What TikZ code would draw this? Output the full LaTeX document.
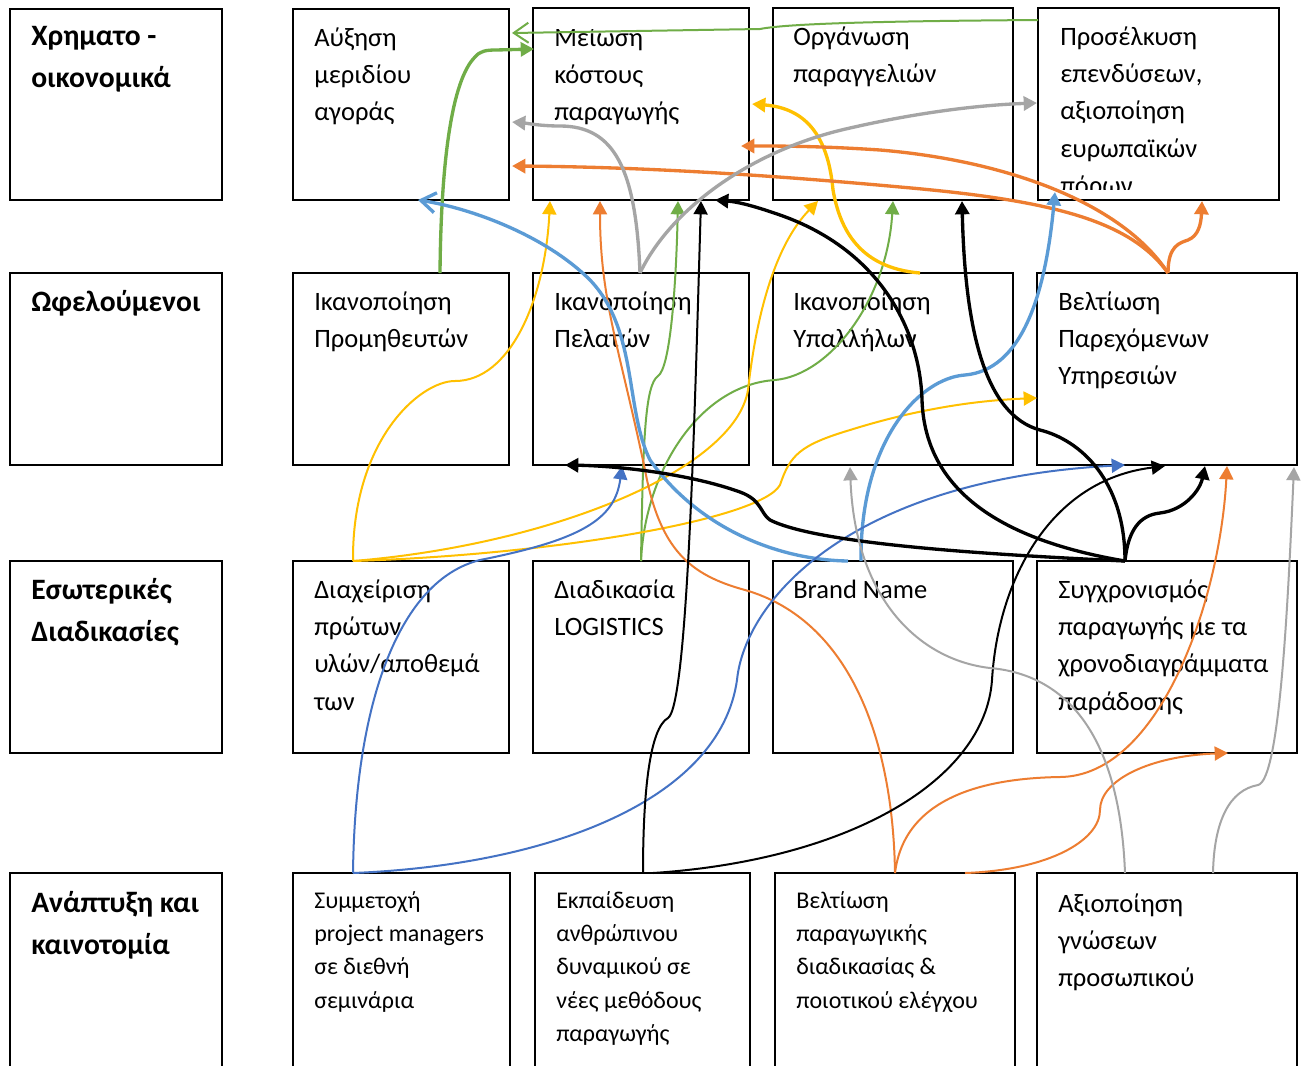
\documentclass[tikz,border=0pt]{standalone}
\usepackage{fontspec}
\setmainfont{Carlito}
\usetikzlibrary{arrows.meta,calc,fit}
\definecolor{cgreen}{HTML}{70AD47}
\definecolor{cyellow}{HTML}{FFC000}
\definecolor{corange}{HTML}{ED7D31}
\definecolor{clblue}{HTML}{5B9BD5}
\definecolor{cdblue}{HTML}{4472C4}
\definecolor{cgray}{HTML}{A5A5A5}
\newcommand\celllines[1]{\begin{tabular}[t]{@{}l@{}}#1\end{tabular}}
\begin{document}
\begin{tikzpicture}[x=0.75pt,y=-0.75pt,
  cell/.style={draw, line width=1.4pt, inner sep=0pt, outer sep=0pt, fit={#1}},
  txt/.style={anchor=base west, inner sep=0pt, font=\fontsize{19.9}{28.1}\selectfont},
  stxt/.style={anchor=base west, inner sep=0pt, font=\fontsize{18}{25.1}\selectfont},
  lbl/.style={anchor=base west, inner sep=0pt, font=\fontsize{22.2}{31.5}\selectfont\bfseries},
  wide/.style={line width=2.5pt},
  slim/.style={line width=1.5pt},
  tipf/.style={-{Triangle[length=10pt,width=10.5pt]}},
  tipo/.style={-{Straight Barb[length=11pt,width=15pt]}}]
\useasboundingbox (0,0) rectangle (1306,1065);
\fill[white] (0,0) rectangle (1306,1065);

% row labels and cells
\node[cell={(10,9) (222,200)}] (L1) {};
\node[cell={(293,9) (509,200)}] (A1) {};
\node[cell={(533,8) (749,200)}] (A2) {};
\node[cell={(773,8) (1013,200)}] (A3) {};
\node[cell={(1038,8) (1279,200)}] (A4) {};
\node[cell={(10,273) (222,465)}] (L2) {};
\node[cell={(293,273) (509,465)}] (B1) {};
\node[cell={(533,273) (749,465)}] (B2) {};
\node[cell={(773,273) (1013,465)}] (B3) {};
\node[cell={(1037,273) (1297,465)}] (B4) {};
\node[cell={(10,561) (222,753)}] (L3) {};
\node[cell={(293,561) (509,753)}] (C1) {};
\node[cell={(533,561) (749,753)}] (C2) {};
\node[cell={(773,561) (1013,753)}] (C3) {};
\node[cell={(1037,561) (1297,753)}] (C4) {};
\node[cell={(10,873) (222,1080)}] (L4) {};
\node[cell={(293,873) (510,1080)}] (D1) {};
\node[cell={(535,873) (750,1080)}] (D2) {};
\node[cell={(775,873) (1015,1080)}] (D3) {};
\node[cell={(1037,873) (1297,1080)}] (D4) {};

% texts
\node[lbl] (L1t) at ($(L1.north west)+(21,36)$) {\celllines{Χρηματο -\\οικονομικά}};
\node[lbl] (L2t) at ($(L2.north west)+(21,38)$) {\celllines{Ωφελούμενοι}};
\node[lbl] (L3t) at ($(L3.north west)+(21,38)$) {\celllines{Εσωτερικές\\Διαδικασίες}};
\node[lbl] (L4t) at ($(L4.north west)+(21,39)$) {\celllines{Ανάπτυξη και\\καινοτομία}};

\node[txt] (A1t) at ($(A1.north west)+(21,37)$) {\celllines{Αύξηση\\μεριδίου\\αγοράς}};
\begin{scope}
  \clip ($(A2.north west)+(0,21)$) rectangle (A2.south east);
  \node[txt] (A2t) at ($(A2.north west)+(21,38)$) {\celllines{Μείωση\\κόστους\\παραγωγής}};
\end{scope}
\node[txt] (A3t) at ($(A3.north west)+(20,37)$) {\celllines{Οργάνωση\\παραγγελιών}};
\begin{scope}
  \clip (A4.north west) rectangle ($(A4.south east)+(0,-11)$);
  \node[txt] (A4t) at ($(A4.north west)+(22,37)$) {\celllines{Προσέλκυση\\επενδύσεων,\\αξιοποίηση\\ευρωπαϊκών\\πόρων}};
\end{scope}

\node[txt] (B1t) at ($(B1.north west)+(21,37)$) {\celllines{Ικανοποίηση\\Προμηθευτών}};
\node[txt] (B2t) at ($(B2.north west)+(21,37)$) {\celllines{Ικανοποίηση\\Πελατών}};
\node[txt] (B3t) at ($(B3.north west)+(20,37)$) {\celllines{Ικανοποίηση\\Υπαλλήλων}};
\node[txt] (B4t) at ($(B4.north west)+(21,37)$) {\celllines{Βελτίωση\\Παρεχόμενων\\Υπηρεσιών}};

\node[txt] (C1t) at ($(C1.north west)+(21,37)$) {\celllines{Διαχείριση\\πρώτων\\υλών/αποθεμά\\των}};
\node[txt] (C2t) at ($(C2.north west)+(21,37)$) {\celllines{Διαδικασία\\LOGISTICS}};
\node[txt] (C3t) at ($(C3.north west)+(20,37)$) {\celllines{Brand Name}};
\node[txt] (C4t) at ($(C4.north west)+(21,37)$) {\celllines{Συγχρονισμός\\παραγωγής με τα\\χρονοδιαγράμματα\\παράδοσης}};

\node[stxt] (D1t) at ($(D1.north west)+(21,35)$) {\celllines{Συμμετοχή\\project managers\\σε διεθνή\\σεμινάρια}};
\node[stxt] (D2t) at ($(D2.north west)+(21,35)$) {\celllines{Εκπαίδευση\\ανθρώπινου\\δυναμικού σε\\νέες μεθόδους\\παραγωγής}};
\node[stxt] (D3t) at ($(D3.north west)+(21,35)$) {\celllines{Βελτίωση\\παραγωγικής\\διαδικασίας \&\\ποιοτικού ελέγχου}};
\node[txt] (D4t) at ($(D4.north west)+(21,39)$) {\celllines{Αξιοποίηση\\γνώσεων\\προσωπικού}};

% green links
\draw[cgreen, slim, tipo] ($(A4.north west)+(0,12)$) .. controls (900,21) and (790,23) .. (760,29) -- ($(A1.north east)+(3,24)$);
\draw[cgreen, wide, tipf] ($(B1.north west)+(147,0)$) .. controls (441,160) and (452,80) .. (475,57) .. controls (480,51) and (486,50) .. (496,50) -- ($(A2.north west)+(1,41)$);
\draw[cgreen, slim, tipf] ($(C2.north west)+(108,0)$) .. controls (643,440) and (645,385) .. (658,376) .. controls (670,368) and (676,290) .. ($(A2.south west)+(145,1)$);
\draw[cgreen, slim, tipf] ($(C2.north west)+(108,0)$) .. controls (645,470) and (700,385) .. (775,380) .. controls (830,375) and (887,300) .. ($(A3.south west)+(120,1)$);

% yellow links
\draw[cyellow, slim, tipf] ($(C1.north west)+(60,0)$) .. controls (352,440) and (420,381) .. (455,381) .. controls (510,381) and (545,300) .. ($(A2.south west)+(17,1)$);
\draw[cyellow, slim, tipf] ($(C1.north west)+(60,0)$) .. controls (550,545) and (735,470) .. (748,390) .. controls (758,300) and (780,240) .. ($(A3.south west)+(45,1)$);
\draw[cyellow, slim, tipf] ($(C1.north west)+(60,0)$) .. controls (550,555) and (760,520) .. (780,485) .. controls (790,455) and (800,445) .. (850,430) .. controls (930,405) and (990,400) .. ($(B4.north west)+(0,125)$);
\draw[cyellow, wide, tipf] ($(B3.north west)+(147,0)$) .. controls (860,268) and (840,230) .. (833,190) .. controls (828,135) and (805,108) .. ($(A2.north east)+(3,96)$);

% orange links
\draw[corange, wide, tipf] ($(B4.north west)+(131,0)$) .. controls (1130,220) and (1050,200) .. (900,187) .. controls (780,176) and (650,167) .. ($(A1.north east)+(3,157)$);
\draw[corange, wide, tipf] ($(B4.north west)+(131,0)$) .. controls (1120,200) and (1000,160) .. (880,150) .. controls (820,146) and (780,146) .. ($(A2.north east)+(-8,138)$);
\draw[corange, wide, tipf] ($(B4.north west)+(131,0)$) .. controls (1168,245) and (1180,243) .. (1188,240) .. controls (1198,236) and (1201,225) .. ($(A4.south west)+(164,1)$);
\draw[corange, slim, tipf] ($(D3.north west)+(120,0)$) .. controls (893,740) and (850,620) .. (745,590) .. controls (690,575) and (660,550) .. (645,470) .. controls (620,350) and (600,300) .. ($(A2.south west)+(67,1)$);
\draw[corange, slim, tipf] ($(D3.north west)+(120,0)$) .. controls (905,790) and (1000,778) .. (1060,777) .. controls (1160,776) and (1220,600) .. ($(B4.south west)+(190,1)$);
\draw[corange, slim, tipf] ($(D3.north west)+(190,0)$) .. controls (1050,870) and (1100,840) .. (1100,810) .. controls (1100,780) and (1150,756) .. ($(C4.south west)+(191,0)$);

% light blue links
\draw[clblue, wide, tipo] ($(C3.north west)+(75,0)$) .. controls (780,560) and (700,530) .. (650,460) .. controls (625,410) and (638,330) .. (590,280) .. controls (545,235) and (470,208) .. ($(A1.south west)+(125,0)$);
\draw[clblue, wide, tipf] ($(C3.north west)+(88,0)$) .. controls (860,440) and (920,378) .. (965,375) .. controls (1020,370) and (1045,300) .. ($(A4.south west)+(17,-8)$);

% dark blue links
\draw[cdblue, slim, tipf] ($(D1.north west)+(60,0)$) .. controls (355,700) and (400,580) .. (480,560) .. controls (580,540) and (615,520) .. ($(B2.south west)+(89,1)$);
\draw[cdblue, slim, tipf] ($(D1.north west)+(60,0)$) .. controls (550,865) and (720,800) .. (737,680) .. controls (745,600) and (850,480) .. ($(B4.south west)+(88,0)$);

% black links
\draw[black, wide, tipf] ($(C4.north west)+(88,0)$) .. controls (1000,555) and (820,545) .. (770,520) .. controls (760,513) and (762,500) .. (740,492) .. controls (690,474) and (620,466) .. ($(B2.south west)+(32,0)$);
\draw[black, wide, tipf] ($(C4.north west)+(88,0)$) .. controls (1000,540) and (925,490) .. (922,400) .. controls (920,330) and (880,250) .. (780,215) .. controls (760,208) and (740,202) .. ($(A2.south west)+(182,0)$);
\draw[black, wide, tipf] ($(C4.north west)+(88,0)$) .. controls (1128,530) and (1140,515) .. (1160,513) .. controls (1185,510) and (1200,490) .. ($(B4.south west)+(168,1)$);
\draw[black, wide, tipf] ($(C4.north west)+(88,0)$) .. controls (1125,480) and (1080,440) .. (1040,430) .. controls (985,415) and (965,330) .. ($(A3.south west)+(189,1)$);
\draw[black, slim, tipf] ($(D2.north west)+(108,0)$) .. controls (643,790) and (650,728) .. (668,718) .. controls (688,705) and (695,400) .. ($(A2.south west)+(168,1)$);
\draw[black, slim, tipf] ($(D2.north west)+(118,0)$) .. controls (850,860) and (985,780) .. (992,680) .. controls (998,580) and (1050,480) .. ($(B4.south west)+(128,1)$);

% gray links
\draw[cgray, wide, tipf] ($(B2.north west)+(107,0)$) .. controls (636,170) and (615,126) .. (560,126) .. controls (540,126) and (525,123) .. ($(A1.north east)+(3,113)$);
\draw[cgray, wide, tipf] ($(B2.north west)+(107,0)$) .. controls (670,210) and (750,150) .. (850,128) .. controls (920,112) and (980,105) .. ($(A4.north west)+(-1,95)$);
\draw[cgray, slim, tipf] ($(D4.north west)+(88,0)$) .. controls (1120,740) and (1070,675) .. (990,668) .. controls (920,660) and (855,600) .. ($(B3.south west)+(77,2)$);
\draw[cgray, slim, tipf] ($(D4.north west)+(176,0)$) .. controls (1214,820) and (1230,790) .. (1258,785) .. controls (1280,780) and (1288,600) .. ($(B4.south east)+(-3,2)$);
\end{tikzpicture}
\end{document}
